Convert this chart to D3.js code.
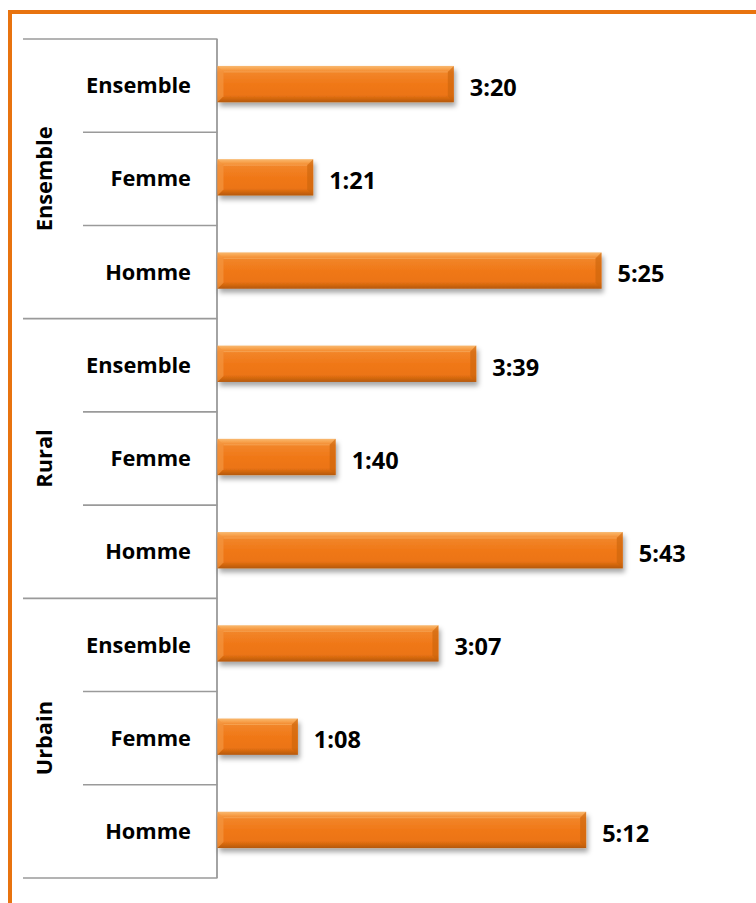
<!DOCTYPE html>
<html>
<head>
<meta charset="utf-8">
<script src="https://cdn.jsdelivr.net/npm/d3@7"></script>
<style>
  html, body { margin: 0; padding: 0; background: #fff; }
  svg { display: block; }
  text { font-family: "Open Sans", "Liberation Sans", sans-serif; font-weight: 700; fill: #000; }
</style>
</head>
<body>
<svg id="chart" width="756" height="903"></svg>
<script>
// ---- data ----
const groups = ["Ensemble", "Rural", "Urbain"];
const subCategories = ["Ensemble", "Femme", "Homme"];
// minutes per day
const valuesEnsemble = [200, 81, 325];
const valuesRural = [219, 100, 343];
const valuesUrbain = [187, 68, 312];
const valueLabels = ["3:20", "1:21", "5:25", "3:39", "1:40", "5:43", "3:07", "1:08", "5:12"];
const xDomainMax = 360;

const seriesByGroup = [valuesEnsemble, valuesRural, valuesUrbain];
const rows = [];
groups.forEach((g, gi) => {
  subCategories.forEach((c, ci) => {
    rows.push({ group: g, cat: c, key: g + "|" + c, value: seriesByGroup[gi][ci], label: valueLabels[gi * 3 + ci] });
  });
});

// ---- layout ----
const svg = d3.select("#chart");
const axisX = 217.5, yTop = 39, yBottom = 878;
const x = d3.scaleLinear().domain([0, xDomainMax]).range([axisX, axisX + xDomainMax * 1.1815]);
const y = d3.scaleBand().domain(rows.map(d => d.key)).range([yTop, yBottom]).paddingInner(0.61).paddingOuter(0.305);
const step = y.step();

// frame
svg.append("rect").attr("x", 10).attr("y", 12).attr("width", 800).attr("height", 1000)
  .attr("fill", "none").attr("stroke", "#E8730F").attr("stroke-width", 4);

// defs
const defs = svg.append("defs");
const grad = defs.append("linearGradient").attr("id", "barGrad").attr("x1", 0).attr("y1", 0).attr("x2", 0).attr("y2", 1);
[[0, "#F8B870"], [0.07, "#F8A652"], [0.17, "#F2862A"], [0.5, "#F07818"], [0.8, "#EC7414"], [0.88, "#D86A10"], [1, "#B4580C"]]
  .forEach(([o, c]) => grad.append("stop").attr("offset", o).attr("stop-color", c));
const filt = defs.append("filter").attr("id", "shadow").attr("x", "-10%").attr("y", "-30%").attr("width", "120%").attr("height", "180%");
filt.append("feDropShadow").attr("dx", 2).attr("dy", 4).attr("stdDeviation", 2.5).attr("flood-color", "#000").attr("flood-opacity", 0.35);

// separators (group & category)
const sepColor = "#9a9a9a";
const boundaries = d3.range(rows.length + 1).map(i => yTop + i * step);
boundaries.forEach((yy, i) => {
  const isGroup = i % 3 === 0;
  svg.append("line").attr("x1", isGroup ? 23 : 83).attr("x2", axisX)
    .attr("y1", yy).attr("y2", yy).attr("stroke", sepColor).attr("stroke-width", 1.6);
});
// axis line
svg.append("line").attr("x1", axisX - 0.5).attr("x2", axisX - 0.5).attr("y1", yTop).attr("y2", yBottom)
  .attr("stroke", sepColor).attr("stroke-width", 1.8);

// bars
const bars = svg.append("g").selectAll("g.bar").data(rows).join("g").attr("class", "bar");
bars.append("rect")
  .attr("x", x(0)).attr("y", d => y(d.key) - 1.5)
  .attr("width", d => x(d.value) - x(0)).attr("height", y.bandwidth())
  .attr("fill", "url(#barGrad)").attr("filter", "url(#shadow)");
// bevel ends
const bev = 6;
bars.append("polygon")
  .attr("points", d => {
    const y0 = y(d.key) - 1.5, h = y.bandwidth(), x0 = x(0);
    return [[x0, y0], [x0 + bev, y0 + bev], [x0 + bev, y0 + h - bev], [x0, y0 + h]].join(" ");
  }).attr("fill", "#F49540").attr("opacity", 0.7);
bars.append("polygon")
  .attr("points", d => {
    const y0 = y(d.key) - 1.5, h = y.bandwidth(), x1 = x(d.value);
    return [[x1, y0], [x1 - bev, y0 + bev], [x1 - bev, y0 + h - bev], [x1, y0 + h]].join(" ");
  }).attr("fill", "#C9640C").attr("opacity", 0.6);
bars.append("line")
  .attr("x1", x(0) + bev).attr("x2", d => x(d.value) - bev)
  .attr("y1", d => y(d.key) - 1.5 + bev).attr("y2", d => y(d.key) - 1.5 + bev)
  .attr("stroke", "#F8B268").attr("stroke-width", 1).attr("opacity", 0.6);

// value labels
svg.append("g").selectAll("text").data(rows).join("text")
  .attr("x", d => x(d.value) + 16)
  .attr("y", d => y(d.key) + y.bandwidth() / 2 + 2)
  .attr("dy", "0.35em")
  .style("font-size", "23.5px")
  .text(d => d.label);

// category labels
svg.append("g").selectAll("text").data(rows).join("text")
  .attr("x", 191)
  .attr("y", d => y(d.key) + y.bandwidth() / 2)
  .attr("dy", "0.35em")
  .attr("text-anchor", "end")
  .style("font-size", "21.8px")
  .text(d => d.cat);

// group labels
svg.append("g").selectAll("text").data(groups).join("text")
  .attr("transform", (g, i) => `translate(52,${yTop + step * 3 * i + step * 1.5}) rotate(-90)`)
  .attr("text-anchor", "middle")
  .style("font-size", "21.8px")
  .text(d => d);
</script>
</body>
</html>
